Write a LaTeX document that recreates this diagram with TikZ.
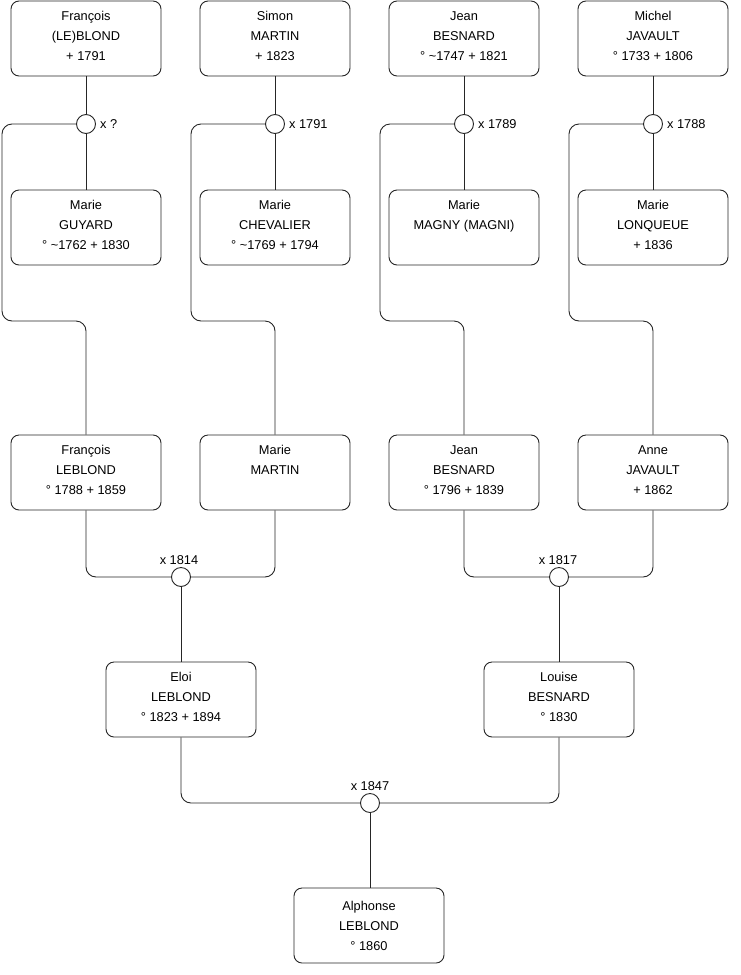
\documentclass[tikz,border=0pt]{standalone}
\usepackage{fontspec}
\setmainfont{Liberation Sans}
\begin{document}
\begin{tikzpicture}[x=1pt,y=1pt,
  person/.style={draw=black!85, line width=0.9pt, rounded corners=8pt, minimum width=150pt, minimum height=75pt,
    inner sep=0pt, fill=white},
  ptext/.style={align=center, font=\fontsize{12.8}{20}\selectfont, inner sep=0pt},
  union/.style={circle, draw=black!85, line width=0.9pt, minimum size=19pt, inner sep=0pt, fill=white},
  lbl/.style={font=\fontsize{12.8}{14}\selectfont, inner sep=1pt},
  link/.style={draw=black!85, line width=0.9pt, rounded corners=10pt}]
\useasboundingbox (0,0) rectangle (740,-975);
\newcommand{\pers}[4][2.5pt]{\node[person] (#2) at #3 {};
  \node[ptext] (#2t) at ([yshift=#1]#2.center) {#4};}
% row 1
\pers{a1}{(86,-38.5)}{François\\(LE)BLOND\\+ 1791}
\pers{a2}{(275,-38.5)}{Simon\\MARTIN\\+ 1823}
\pers{a3}{(464,-38.5)}{Jean\\BESNARD\\° \textasciitilde1747 + 1821}
\pers{a4}{(653,-38.5)}{Michel\\JAVAULT\\° 1733 + 1806}
% unions row 1
\node[union] (c1) at (86,-124) {};
\node[union] (c2) at (275,-124) {};
\node[union] (c3) at (464,-124) {};
\node[union] (c4) at (653,-124) {};
\node[lbl, anchor=west] (l1) at ([xshift=3pt]c1.east) {x ?};
\node[lbl, anchor=west] (l2) at ([xshift=3pt]c2.east) {x 1791};
\node[lbl, anchor=west] (l3) at ([xshift=3pt]c3.east) {x 1789};
\node[lbl, anchor=west] (l4) at ([xshift=3pt]c4.east) {x 1788};
% row 2
\pers{b1}{(86,-227.5)}{Marie\\GUYARD\\° \textasciitilde1762 + 1830}
\pers{b2}{(275,-227.5)}{Marie\\CHEVALIER\\° \textasciitilde1769 + 1794}
\pers{b3}{(464,-227.5)}{Marie\\MAGNY (MAGNI)\\\phantom{1}}
\pers{b4}{(653,-227.5)}{Marie\\LONQUEUE\\+ 1836}
% row 3
\pers{d1}{(86,-472.5)}{François\\LEBLOND\\° 1788 + 1859}
\pers{d2}{(275,-472.5)}{Marie\\MARTIN\\\phantom{1}}
\pers{d3}{(464,-472.5)}{Jean\\BESNARD\\° 1796 + 1839}
\pers{d4}{(653,-472.5)}{Anne\\JAVAULT\\+ 1862}
% unions row 3
\node[union] (e1) at (181,-577) {};
\node[union] (e2) at (559,-577) {};
\node[lbl, anchor=south] (m1) at ([xshift=-2pt,yshift=1pt]e1.north) {x 1814};
\node[lbl, anchor=south] (m2) at ([xshift=-1pt,yshift=1pt]e2.north) {x 1817};
% row 4
\pers{f1}{(181,-699.5)}{Eloi\\LEBLOND\\° 1823 + 1894}
\pers{f2}{(559,-699.5)}{Louise\\BESNARD\\° 1830}
% union final
\node[union] (g1) at (370,-803) {};
\node[lbl, anchor=south] (m3) at ([yshift=1pt]g1.north) {x 1847};
% row 5
\pers[0pt]{h1}{(369,-925.5)}{Alphonse\\LEBLOND\\° 1860}

% connectors
\foreach \i in {1,2,3,4} {
  \draw[link] (a\i.south) -- (c\i.north);
  \draw[link] (c\i.south) -- (b\i.north);
}
\draw[link] (c1.west) -- (2,-124) -- (2,-321) -- (86,-321) -- (d1.north);
\draw[link] (c2.west) -- (191,-124) -- (191,-321) -- (275,-321) -- (d2.north);
\draw[link] (c3.west) -- (380,-124) -- (380,-321) -- (464,-321) -- (d3.north);
\draw[link] (c4.west) -- (569,-124) -- (569,-321) -- (653,-321) -- (d4.north);

\draw[link] (d1.south) |- (e1.west);
\draw[link] (d2.south) |- (e1.east);
\draw[link] (d3.south) |- (e2.west);
\draw[link] (d4.south) |- (e2.east);
\draw[link] (e1.south) -- (f1.north);
\draw[link] (e2.south) -- (f2.north);

\draw[link] (f1.south) |- (g1.west);
\draw[link] (f2.south) |- (g1.east);
\draw[link] (g1.south) -- (g1.south |- h1.north);
\end{tikzpicture}
\end{document}
